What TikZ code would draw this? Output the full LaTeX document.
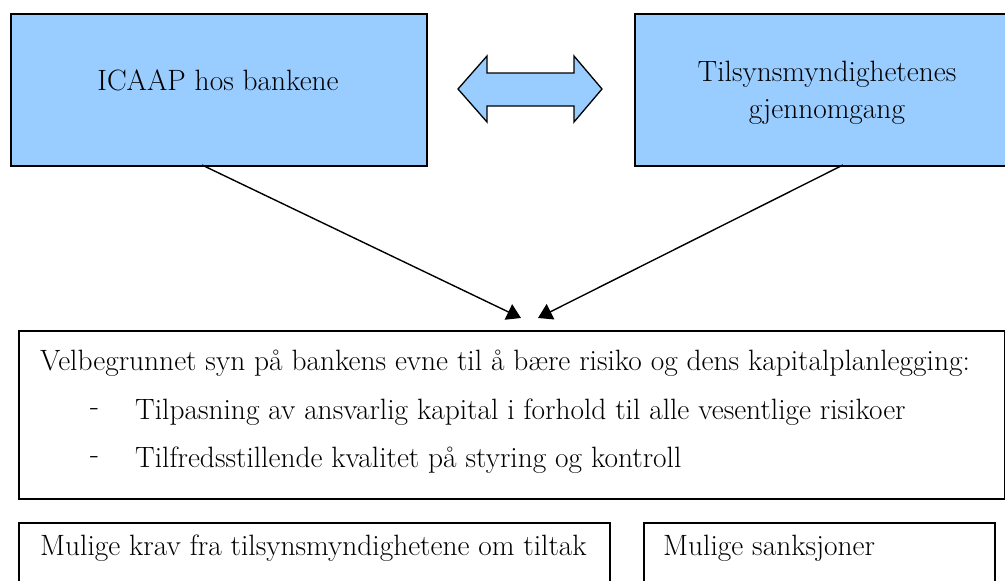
\documentclass[tikz,border=0pt]{standalone}
\usepackage{fontspec}
\usetikzlibrary{arrows.meta,positioning}
\definecolor{boxblue}{HTML}{99CCFF}
\tikzset{
	topbox/.style={draw,fill=boxblue,line width=1.6pt,inner sep=0pt,anchor=north west},
	plainbox/.style={draw,line width=1.6pt,inner sep=0pt,anchor=north west},
	txt/.style={font=\fontsize{29.4}{37}\selectfont,inner sep=0pt},
	ar/.style={line width=1.4pt,-{Triangle[length=14pt,width=17pt]}}
}
\begin{document}
\begin{tikzpicture}[x=1pt,y=-1pt]
	\useasboundingbox (0,0) rectangle (1005,581);
	\clip (0,0) rectangle (1005,581);
	% top boxes
	\node[topbox,minimum width=416,minimum height=152] (icaap) at (10,13) {};
	\node[topbox,minimum width=380,minimum height=152] (review) at (634,13) {};
	\node[txt] at (218,80) {ICAAP hos bankene};
	\node[txt,align=center] at (827,93) {Tilsynsmyndighetenes\\gjennomgang};
	% two-way arrow between them
	\draw[fill=boxblue,line width=1.3pt,line join=miter]
		(458,89) -- (487,56) -- (487,73) -- (574,73) -- (574,56) -- (602,89)
		-- (574,122) -- (574,106) -- (487,106) -- (487,122) -- cycle;
	% assessment box
	\node[plainbox,minimum width=986,minimum height=168] (view) at (18,330) {};
	\node[txt,anchor=west] (v0) at (40,363) {Velbegrunnet syn på bankens evne til å bære risiko og dens kapitalplanlegging:};
	\node[txt,anchor=west] (d1) at (90,412) {-};
	\node[txt,anchor=west] (v1) at (135,412) {Tilpasning av ansvarlig kapital i forhold til alle vesentlige risikoer};
	\node[txt,anchor=west] (d2) at (90,460) {-};
	\node[txt,anchor=west] (v2) at (135,460) {Tilfredsstillende kvalitet på styring og kontroll};
	% connectors
	\coordinate (icaapfoot) at (202,165);
	\coordinate (reviewfoot) at (843,165);
	\coordinate (tipL) at (521,318);
	\coordinate (tipR) at (538,318);
	\draw[ar] (icaapfoot) -- (tipL);
	\draw[ar] (reviewfoot) -- (tipR);
	% bottom boxes
	\node[plainbox,minimum width=591,minimum height=90] (demands) at (18,522) {};
	\node[plainbox,minimum width=351,minimum height=90] (sanctions) at (643,522) {};
	\node[txt,anchor=west] at (40,548) {Mulige krav fra tilsynsmyndighetene om tiltak};
	\node[txt,anchor=west] at (663,548) {Mulige sanksjoner};
\end{tikzpicture}
\end{document}
